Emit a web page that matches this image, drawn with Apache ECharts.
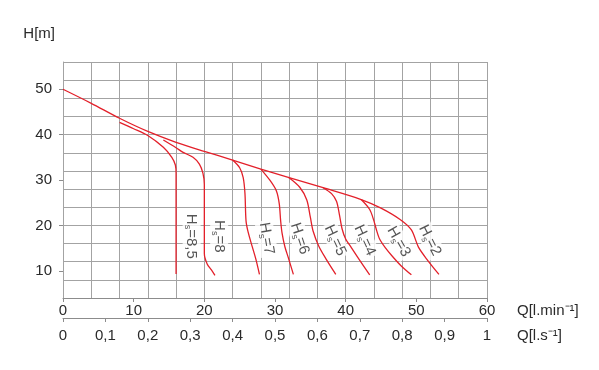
<!DOCTYPE html>
<html>
<head>
<meta charset="utf-8">
<script src="https://cdn.jsdelivr.net/npm/echarts@6/dist/echarts.min.js"></script>
<style>
html,body{margin:0;padding:0;background:#fff;}
#c{width:599px;height:370px;}
</style>
</head>
<body>
<div id="c"></div>
<script>
// ---- data (Q in l/min, H in m) ----
const curveHs2  = [[0,50],[4,46.9],[8,43.6],[12,40.7],[16,38.3],[20,36.3],[24,34.4],[28,32.4],[32,30.5],[36.8,28.3],[42.2,25.7],[45,23.8],[47.7,21.3],[49.3,19],[50.3,15.2],[51.6,12.3],[53.2,9.2]];
const curveHs3  = [[42.2,25.7],[43.4,23.5],[44,21],[44.3,19.3],[44.8,17],[45.6,15.1],[46.6,13.2],[47.9,11],[49.3,9.1]];
const curveHs4  = [[36.8,28.3],[38,27],[38.7,25.3],[39.1,22.5],[39.5,19.2],[40,17],[40.8,15.1],[41.9,12.5],[43.4,9.1]];
const curveHs5  = [[31.9,30.6],[33.5,28.4],[34.5,25.6],[35,21.8],[35.4,18.7],[36.2,15.4],[37.3,12.4],[38.6,9.2]];
const curveHs6  = [[28,32.4],[29.3,29.9],[30.2,27.6],[30.6,24.8],[30.8,21],[31,18.3],[31.4,15.3],[31.9,12.8],[32.6,9.2]];
const curveHs7  = [[24,34.4],[25,32.7],[25.5,30.5],[25.75,27],[25.9,21],[26.2,18.5],[26.8,15.2],[27.3,12.5],[27.8,9.2]];
const curveHs8  = [[14.2,38.8],[16,37.1],[17,36.1],[18.4,35],[19.3,33.5],[19.8,31.5],[20,29],[20,20],[20,13.8],[20.4,11.5],[21,10.2],[21.5,9.0]];
const curveHs85 = [[8,42.7],[10,41.3],[12,39.8],[14.2,37.2],[15.4,35],[15.9,33.3],[16,31.5],[16,20],[16,9.3]];
const curveNames = ['2','3','4','5','6','7','8','8,5'];
const hTicks = [10,20,30,40,50];
const qMinTicks = [0,10,20,30,40,50,60];

// ---- layout / style ----
const FONT = "'Liberation Sans',Arial,sans-serif";
const FS = 15;
const RED = '#e3202a';
const GRIDC = '#a3a3a3';
const AXC = '#8c8c8c';
const TXT = '#2a2a2a';
// label anchors (Q, H) and rotation for each curve name
const labelAnchor = {
  '8,5':[18.2,17.6,-90], '8':[22.1,17.6,-90], '7':[28.8,17.1,-80], '6':[33.5,17.1,-72],
  '5':[38.5,16.7,-65], '4':[42.7,16.7,-65], '3':[47.5,16.4,-60], '2':[51.9,16.7,-63]
};

const curves = [curveHs2,curveHs3,curveHs4,curveHs5,curveHs6,curveHs7,curveHs8,curveHs85];
const series = curves.map((d,i)=>({
  type:'line', name:'Hs='+curveNames[i], data:d, xAxisIndex:0, yAxisIndex:0,
  showSymbol:false, symbol:'none', smooth:0.3,
  lineStyle:{color:RED,width:1.3}, z:3, silent:true
}));
series.push({
  type:'scatter', xAxisIndex:0, yAxisIndex:0, symbolSize:0, z:5, silent:true,
  data: curveNames.map(n=>({
    value:[labelAnchor[n][0],labelAnchor[n][1]],
    label:{rotate:labelAnchor[n][2], formatter:'{h|H}{s|s}{h|='+n+'}'}
  })),
  label:{show:true, position:'inside', align:'center', verticalAlign:'middle',
    backgroundColor:'#fff', padding:[0,2,0,2],
    rich:{
      h:{fontFamily:FONT,fontSize:15,color:TXT},
      s:{fontFamily:FONT,fontSize:9,color:TXT,padding:[9,0,0,0]}
    }}
});

const chart = echarts.init(document.getElementById('c'),null,{renderer:'canvas'});
chart.setOption({
  animation:false,
  backgroundColor:'#fff',
  grid:{left:63,right:112,top:62,bottom:72,containLabel:false},
  xAxis:[
    // grid-only axis (Q l/min, lines every 4)
    {type:'value',min:0,max:60,interval:4,position:'bottom',
     axisLine:{show:false},axisTick:{show:false},axisLabel:{show:false},
     splitLine:{show:true,lineStyle:{color:GRIDC,width:1}}},
    {type:'value',min:0,max:60,position:'bottom',
     name:'Q[l.min⁻¹]',nameLocation:'end',nameGap:30,
     nameTextStyle:{fontFamily:FONT,fontSize:FS,color:TXT,verticalAlign:'top',align:'left',lineHeight:16,padding:[5,0,0,0]},
     axisLine:{show:true,lineStyle:{color:AXC,width:1}},
     axisTick:{show:true,length:4,customValues:qMinTicks,lineStyle:{color:AXC}},
     axisLabel:{customValues:qMinTicks,margin:5,fontFamily:FONT,fontSize:FS,color:TXT},
     splitLine:{show:false}},
    {type:'value',min:0,max:1,interval:0.1,position:'bottom',offset:20,
     name:'Q[l.s⁻¹]',nameLocation:'end',nameGap:30,
     nameTextStyle:{fontFamily:FONT,fontSize:FS,color:TXT,verticalAlign:'top',align:'left',lineHeight:16,padding:[10,0,0,0]},
     axisLine:{show:true,lineStyle:{color:AXC,width:1}},
     axisTick:{show:true,length:4,lineStyle:{color:AXC}},
     axisLabel:{margin:10,fontFamily:FONT,fontSize:FS,color:TXT,
       formatter:v=>String(+v.toFixed(1)).replace('.',',')},
     splitLine:{show:false}}
  ],
  yAxis:[
    // grid-only axis (H, lines every 4)
    {type:'value',min:4,max:56,interval:4,
     axisLine:{show:true,lineStyle:{color:GRIDC}},axisTick:{show:false},axisLabel:{show:false},
     splitLine:{show:true,lineStyle:{color:GRIDC,width:1}}},
    {type:'value',min:4,max:56,position:'left',
     name:'H[m]',nameLocation:'end',nameGap:21,
     nameTextStyle:{fontFamily:FONT,fontSize:FS,color:TXT,align:'right',padding:[0,8,0,0]},
     axisLine:{show:false},
     axisTick:{show:true,length:4,customValues:hTicks,lineStyle:{color:AXC}},
     axisLabel:{customValues:hTicks,margin:11,fontFamily:FONT,fontSize:FS,color:TXT},
     splitLine:{show:false}}
  ],
  series:series
});
</script>
</body>
</html>
